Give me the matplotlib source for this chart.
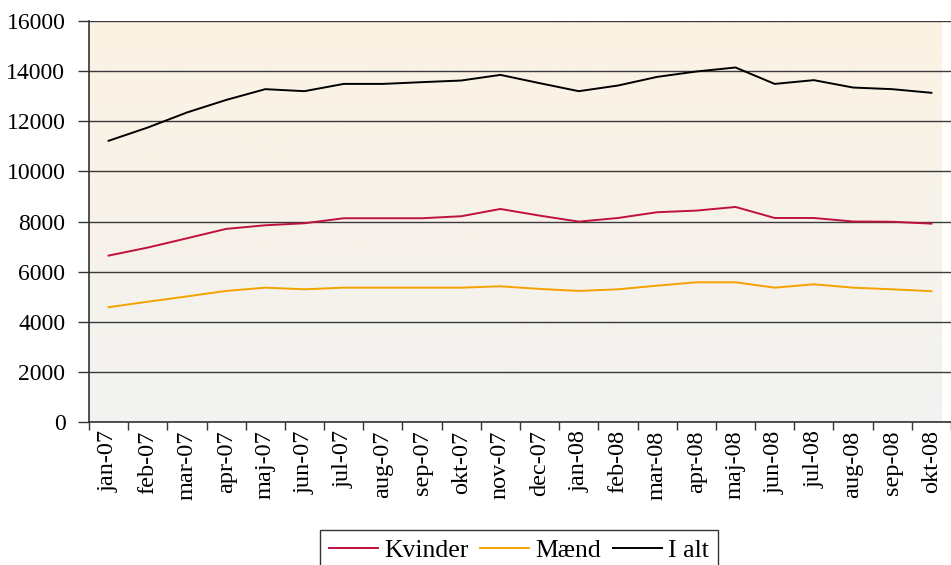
import numpy as np
import matplotlib.pyplot as plt
from matplotlib.colors import LinearSegmentedColormap

plt.rcParams['font.family'] = ['Liberation Serif', 'DejaVu Serif']

months = ["jan-07", "feb-07", "mar-07", "apr-07", "maj-07", "jun-07", "jul-07",
          "aug-07", "sep-07", "okt-07", "nov-07", "dec-07", "jan-08", "feb-08",
          "mar-08", "apr-08", "maj-08", "jun-08", "jul-08", "aug-08", "sep-08",
          "okt-08"]

kvinder = [6640, 6960, 7330, 7705, 7850, 7930, 8130, 8130, 8130, 8210, 8500,
           8235, 7995, 8140, 8370, 8435, 8580, 8140, 8140, 8000, 7990, 7915]
maend = [4580, 4800, 5010, 5230, 5360, 5295, 5360, 5360, 5360, 5360, 5415,
         5310, 5230, 5295, 5440, 5575, 5575, 5360, 5495, 5360, 5295, 5220]
i_alt = [11220, 11750, 12350, 12850, 13280, 13200, 13490, 13490, 13560, 13625, 13850,
         13520, 13200, 13425, 13770, 13985, 14145, 13490, 13640, 13345, 13280, 13135]

fig = plt.figure(figsize=(9.51, 5.65), dpi=100)
ax = fig.add_axes([89 / 951, 143 / 565, 862 / 951, 401 / 565])

x = np.arange(len(months))
xmax = 21.26

# background gradient, orange at top to grey at bottom
cmap = LinearSegmentedColormap.from_list("bg", ["#F2F2F1", "#FCF2E3"])
grad = np.linspace(0, 1, 256).reshape(-1, 1)
ax.imshow(grad, cmap=cmap, aspect="auto", origin="lower",
          extent=[-0.5, xmax, 0, 16000], zorder=0)

ax.plot(x, kvinder, color="#C0103C", lw=1.4, label="Kvinder", zorder=3)
ax.plot(x, maend, color="#F5A100", lw=1.4, label="Mænd", zorder=3)
ax.plot(x, i_alt, color="black", lw=1.4, label="I alt", zorder=3)

ax.set_xlim(-0.5, xmax)
ax.set_ylim(0, 16000)
ax.set_yticks(range(0, 16001, 2000))
ax.yaxis.grid(True, color="#3a3a3a", lw=1)
ax.set_axisbelow(False)

ax.set_xticks(x)
ax.set_xticklabels(months, rotation=90, fontsize=17.5)
ax.set_xticks(np.arange(-0.5, 21.6, 1), minor=True)
ax.tick_params(axis="x", which="major", length=0, pad=6)
ax.tick_params(axis="x", which="minor", length=6, color="#333333", width=1)
ax.tick_params(axis="y", labelsize=17, length=8, color="#333333", width=1, pad=9)

for s in ["top", "right"]:
    ax.spines[s].set_visible(False)
for s in ["left", "bottom"]:
    ax.spines[s].set_color("#333333")
    ax.spines[s].set_linewidth(1.2)

leg = fig.legend(loc="upper center", bbox_to_anchor=(0.546, 0.062), ncol=3,
                 fontsize=18.5, frameon=True, fancybox=False, edgecolor="black",
                 handlelength=1.9, handletextpad=0.25, columnspacing=0.45,
                 borderpad=0.35, borderaxespad=0)
leg.get_frame().set_linewidth(1)

fig.savefig("out.png", dpi=100)
